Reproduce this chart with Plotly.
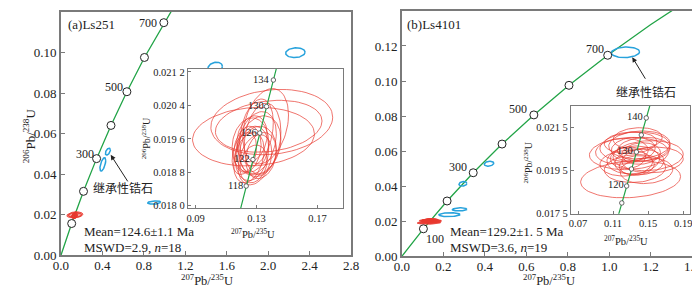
import numpy as np
import plotly.graph_objects as go

W, H = 700, 289
def PX(x): return x / W
def PY(y): return 1 - y / H

# ---------------- data ----------------
# concordia reference points (age Ma, 207Pb/235U, 206Pb/238U)
conc_age = [0, 100, 200, 300, 400, 500, 600, 700, 800, 900]
conc_x207 = [0.0, 0.103498, 0.217708, 0.343737, 0.482813, 0.636284, 0.805638, 0.992523, 1.198750, 1.426332]
conc_y206 = [0.0, 0.015633, 0.031511, 0.047637, 0.064016, 0.080650, 0.097544, 0.114702, 0.132128, 0.149827]

# fine concordia for insets
fine_age = [105, 110, 115, 120, 125, 130, 135, 140, 145]
fine_x207 = [0.10895, 0.11442, 0.11992, 0.12545, 0.13100, 0.13659, 0.14220, 0.14784, 0.15350]
fine_y206 = [0.016421, 0.017210, 0.018000, 0.018789, 0.019580, 0.020371, 0.021163, 0.021955, 0.022748]

insA_age = [118, 122, 126, 130, 134]
insA_x = [0.12323, 0.12767, 0.13212, 0.13659, 0.14107]
insA_y = [0.018473, 0.019105, 0.019738, 0.020371, 0.021004]

insB_age = [115, 120, 125, 130, 135, 140]
insB_x = [0.11992, 0.12545, 0.13100, 0.13659, 0.14220, 0.14784]
insB_y = [0.018000, 0.018789, 0.019580, 0.020371, 0.021163, 0.021955]
insB_lab = ["", "120", "", "130", "", "140"]

# sample Ls251 analyses (center x, center y, half-width x, half-height y, correlation)
a_cx = [0.140, 0.138, 0.128, 0.136, 0.134, 0.130, 0.127, 0.125, 0.131, 0.124, 0.129, 0.133, 0.126, 0.128, 0.122, 0.132, 0.127, 0.130]
a_cy = [0.02000, 0.01990, 0.01965, 0.01990, 0.01960, 0.01950, 0.01925, 0.01915, 0.01930, 0.01935, 0.01910, 0.01920, 0.01945, 0.01900, 0.01925, 0.01945, 0.01960, 0.01975]
a_sx = [0.040, 0.035, 0.040, 0.015, 0.012, 0.013, 0.011, 0.010, 0.012, 0.009, 0.011, 0.010, 0.012, 0.009, 0.008, 0.014, 0.010, 0.011]
a_sy = [0.00078, 0.00062, 0.00070, 0.00090, 0.00085, 0.00075, 0.00065, 0.00060, 0.00060, 0.00055, 0.00060, 0.00055, 0.00065, 0.00045, 0.00050, 0.00070, 0.00055, 0.00080]
a_rho = [0.15, 0.2, 0.1, 0.3, 0.2, 0.3, 0.2, 0.3, 0.1, 0.2, 0.3, 0.2, 0.1, 0.2, 0.3, 0.2, 0.2, 0.3]

# sample Ls4101 analyses
b_cx = [0.130, 0.135, 0.140, 0.128, 0.150, 0.133, 0.125, 0.140, 0.133, 0.145, 0.120, 0.135, 0.155, 0.130, 0.138, 0.127, 0.142, 0.137, 0.148]
b_cy = [0.01910, 0.02060, 0.02070, 0.02030, 0.02020, 0.02000, 0.01985, 0.01990, 0.02050, 0.02050, 0.02040, 0.01960, 0.02000, 0.02080, 0.02100, 0.02010, 0.02030, 0.01975, 0.01950]
b_sx = [0.057, 0.040, 0.035, 0.045, 0.040, 0.030, 0.030, 0.028, 0.025, 0.030, 0.030, 0.035, 0.035, 0.030, 0.028, 0.020, 0.022, 0.020, 0.030]
b_sy = [0.00086, 0.00070, 0.00065, 0.00075, 0.00070, 0.00065, 0.00060, 0.00060, 0.00055, 0.00055, 0.00060, 0.00065, 0.00060, 0.00050, 0.00050, 0.00050, 0.00050, 0.00045, 0.00060]
b_rho = [0.15, 0.1, 0.1, 0.1, 0.1, 0.1, 0.1, 0.1, 0.1, 0.1, 0.1, 0.1, 0.1, 0.1, 0.1, 0.1, 0.1, 0.1, 0.1]

# inherited zircons
ia_cx = [0.453, 0.404, 0.900, 1.488, 2.262]
ia_cy = [0.0511, 0.0448, 0.0260, 0.0926, 0.0999]
ia_sx = [0.024, 0.028, 0.063, 0.070, 0.094]
ia_sy = [0.0017, 0.0033, 0.0008, 0.0026, 0.0024]
ia_rho = [0.5, 0.6, 0.2, 0.2, 0.1]

ib_cx = [0.420, 0.294, 0.278, 0.229, 1.078]
ib_cy = [0.0528, 0.0413, 0.0267, 0.0237, 0.1164]
ib_sx = [0.023, 0.019, 0.035, 0.051, 0.068]
ib_sy = [0.0014, 0.0013, 0.0009, 0.0011, 0.0030]
ib_rho = [0.2, 0.2, 0.1, 0.1, 0.1]

main_xticks_a = [0.0, 0.4, 0.8, 1.2, 1.6, 2.0, 2.4, 2.8]
main_yticks_a = [0.00, 0.02, 0.04, 0.06, 0.08, 0.10, 0.12]
main_xticks_b = [0.0, 0.2, 0.4, 0.6, 0.8, 1.0, 1.2, 1.4]
main_yticks_b = [0.00, 0.02, 0.04, 0.06, 0.08, 0.10, 0.12, 0.14]
insA_xticks = [0.09, 0.13, 0.17]
insA_yticks = [0.0180, 0.0188, 0.0196, 0.0204, 0.0212]
insA_ytext = ["0.018 0", "0.018 8", "0.019 6", "0.020 4", "0.021 2"]
insB_xticks = [0.07, 0.11, 0.15, 0.19]
insB_yticks = [0.0175, 0.0195, 0.0215]
insB_ytext = ["0.017 5", "0.019 5", "0.021 5"]

# ---------------- styling ----------------
RED = "#e8392f"
BLUE = "#27a2dc"
GREEN = "#22a447"
FRAME = "#7a7a7a"
SERIF = "Liberation Serif"
CJK = "Noto Sans CJK SC"
SCALE_A = 1.8   # main-panel display scale of Ls251 error ellipses
SCALE_B = 1.0


def ellipses(cx, cy, sx, sy, rho, k=1.0, n=72):
    t = np.linspace(0, 2 * np.pi, n)
    xs, ys = [], []
    for a, b, c, d, r in zip(cx, cy, sx, sy, rho):
        x = a + k * c * np.cos(t)
        y = b + k * d * (r * np.cos(t) + np.sqrt(1 - r * r) * np.sin(t))
        xs += list(x) + [None]
        ys += list(y) + [None]
    return xs, ys


fig = go.Figure()

# ---- main panel a ----
fig.add_trace(go.Scatter(x=conc_x207, y=conc_y206, mode="lines", line=dict(color=GREEN, width=1.3),
                         xaxis="x", yaxis="y", hoverinfo="skip"))
ex, ey = ellipses(a_cx, a_cy, a_sx, a_sy, a_rho, SCALE_A)
fig.add_trace(go.Scatter(x=ex, y=ey, mode="lines", fill="toself", fillcolor="rgba(232,57,47,0.45)",
                         line=dict(color=RED, width=0.8), xaxis="x", yaxis="y"))
ex, ey = ellipses(ia_cx, ia_cy, ia_sx, ia_sy, ia_rho)
fig.add_trace(go.Scatter(x=ex, y=ey, mode="lines", line=dict(color=BLUE, width=1.5), xaxis="x", yaxis="y"))
fig.add_trace(go.Scatter(x=conc_x207[1:8], y=conc_y206[1:8], mode="markers",
                         marker=dict(size=8, color="white", line=dict(color="#222", width=1)),
                         xaxis="x", yaxis="y"))

# ---- main panel b ----
fig.add_trace(go.Scatter(x=conc_x207, y=conc_y206, mode="lines", line=dict(color=GREEN, width=1.3),
                         xaxis="x2", yaxis="y2"))
ex, ey = ellipses(b_cx, b_cy, b_sx, b_sy, b_rho, SCALE_B)
fig.add_trace(go.Scatter(x=ex, y=ey, mode="lines", fill="toself", fillcolor="rgba(232,40,35,0.85)",
                         line=dict(color=RED, width=0.8), xaxis="x2", yaxis="y2"))
ex, ey = ellipses(ib_cx, ib_cy, ib_sx, ib_sy, ib_rho)
fig.add_trace(go.Scatter(x=ex, y=ey, mode="lines", line=dict(color=BLUE, width=1.5), xaxis="x2", yaxis="y2"))
fig.add_trace(go.Scatter(x=conc_x207[1:8], y=conc_y206[1:8], mode="markers",
                         marker=dict(size=8, color="white", line=dict(color="#222", width=1)),
                         xaxis="x2", yaxis="y2"))

# ---- inset a ----
ex, ey = ellipses(a_cx, a_cy, a_sx, a_sy, a_rho)
fig.add_trace(go.Scatter(x=ex, y=ey, mode="lines", line=dict(color=RED, width=0.7), xaxis="x3", yaxis="y3"))
fig.add_trace(go.Scatter(x=fine_x207, y=fine_y206, mode="lines", line=dict(color=GREEN, width=1.2),
                         xaxis="x3", yaxis="y3"))
fig.add_trace(go.Scatter(x=insA_x, y=insA_y, mode="markers",
                         marker=dict(size=4.5, color="white", line=dict(color="#444", width=0.8)),
                         xaxis="x3", yaxis="y3"))

# ---- inset b ----
ex, ey = ellipses(b_cx, b_cy, b_sx, b_sy, b_rho)
fig.add_trace(go.Scatter(x=ex, y=ey, mode="lines", line=dict(color=RED, width=0.7), xaxis="x4", yaxis="y4"))
fig.add_trace(go.Scatter(x=fine_x207, y=fine_y206, mode="lines", line=dict(color=GREEN, width=1.2),
                         xaxis="x4", yaxis="y4"))
fig.add_trace(go.Scatter(x=insB_x, y=insB_y, mode="markers",
                         marker=dict(size=4.5, color="white", line=dict(color="#444", width=0.8)),
                         xaxis="x4", yaxis="y4"))

ax_common = dict(showgrid=False, zeroline=False, showline=True, mirror=True, linecolor=FRAME,
                 linewidth=1.5, ticks="inside", ticklen=4, tickcolor=FRAME,
                 tickfont=dict(family=SERIF, size=13, color="#222"))
ins_common = dict(showgrid=False, zeroline=False, showline=True, mirror=True, linecolor=FRAME,
                  linewidth=1.3, ticks="inside", ticklen=3, tickcolor=FRAME,
                  tickfont=dict(family=SERIF, size=10.5, color="#222"))

fig.update_layout(
    width=W, height=H, margin=dict(l=0, r=0, t=0, b=0),
    paper_bgcolor="white", plot_bgcolor="white", showlegend=False,
    xaxis=dict(domain=[PX(46), PX(343)], range=[0, 2.8], anchor="y", ticklabelstandoff=-3,
               tickvals=main_xticks_a, ticktext=[f"{v:.1f}" for v in main_xticks_a], **ax_common),
    yaxis=dict(domain=[PY(254), PY(2)], range=[0, 0.12], anchor="x",
               tickvals=main_yticks_a, ticktext=[f"{v:.2f}" for v in main_yticks_a], **ax_common),
    xaxis2=dict(domain=[PX(395), PX(692)], range=[0, 1.4], anchor="y2", ticklabelstandoff=-3,
                tickvals=main_xticks_b, ticktext=[f"{v:.1f}" for v in main_xticks_b], **ax_common),
    yaxis2=dict(domain=[PY(255), PY(1)], range=[0, 0.14], anchor="x2",
                tickvals=main_yticks_b, ticktext=[f"{v:.2f}" for v in main_yticks_b], **ax_common),
    xaxis3=dict(domain=[PX(176), PX(335)], range=[0.085, 0.187], anchor="y3",
                tickvals=insA_xticks, ticktext=[f"{v:.2f}" for v in insA_xticks], **ins_common),
    yaxis3=dict(domain=[PY(205), PY(61)], range=[0.01795, 0.02127], anchor="x3",
                tickvals=insA_yticks, ticktext=insA_ytext, **ins_common),
    xaxis4=dict(domain=[PX(568), PX(690)], range=[0.062, 0.198], anchor="y4",
                tickvals=insB_xticks, ticktext=[f"{v:.2f}" for v in insB_xticks], **ins_common),
    yaxis4=dict(domain=[PY(211), PY(99)], range=[0.0175, 0.02253], anchor="x4",
                tickvals=insB_yticks, ticktext=insB_ytext, **ins_common),
)

ann = []
def paper_text(x, y, text, size=13, family=SERIF, xanchor="center", angle=0, yanchor="middle"):
    ann.append(dict(x=PX(x), y=PY(y), xref="paper", yref="paper", text=text, showarrow=False,
                    xanchor=xanchor, yanchor=yanchor, textangle=angle, borderpad=0,
                    font=dict(family=family, size=size, color="#222")))

def data_text(xr, yr, x, y, text, xs, ys, size=12, xanchor="right"):
    ann.append(dict(x=x, y=y, xref=xr, yref=yr, text=text, showarrow=False, xanchor=xanchor,
                    yanchor="middle", xshift=xs, yshift=ys, borderpad=0,
                    font=dict(family=SERIF, size=size, color="#222")))

T206 = "<sup>206</sup>Pb/<sup>238</sup>U"
T207 = "<sup>207</sup>Pb/<sup>235</sup>U"
paper_text(13, 130, T206, 13, angle=-90)
paper_text(195, 289, T207, 12.5, yanchor="bottom")
paper_text(545, 289, T207, 12.5, yanchor="bottom")
paper_text(243, 231, T207, 10.5)
paper_text(624, 239, T207, 10.5)
paper_text(133, 133, T206, 10, angle=-90)
paper_text(523, 158, T206, 10, angle=-90)
paper_text(52, 15, "(a)Ls251", 13, xanchor="left")
paper_text(399, 15, "(b)Ls4101", 13, xanchor="left")
paper_text(69, 229, "Mean=124.6±1.1 Ma", 13, xanchor="left")
paper_text(69, 246, "MSWD=2.9, <i>n</i>=18", 13, xanchor="left")
paper_text(443, 229, "Mean=129.2±1. 5 Ma", 13, xanchor="left")
paper_text(443, 246, "MSWD=3.6, <i>n</i>=19", 13, xanchor="left")
paper_text(109, 184, "继承性锆石", 12, family=CJK)
paper_text(645, 84, "继承性锆石", 12, family=CJK)

# concordia age labels, main panels
data_text("x", "y", conc_x207[7], conc_y206[7], "700", -6, 0)
data_text("x", "y", conc_x207[5], conc_y206[5], "500", -3, 5)
data_text("x", "y", conc_x207[3], conc_y206[3], "300", -2, 5)
data_text("x2", "y2", conc_x207[7], conc_y206[7], "700", -3, 6)
data_text("x2", "y2", conc_x207[5], conc_y206[5], "500", -6, 6)
data_text("x2", "y2", conc_x207[3], conc_y206[3], "300", -5, 6)
data_text("x2", "y2", conc_x207[1], conc_y206[1], "100", 2, -10, xanchor="left")

for xv, yv, a in zip(insA_x, insA_y, insA_age):
    data_text("x3", "y3", xv, yv, str(a), -2, 1, size=10.5)
for xv, yv, lab in zip(insB_x, insB_y, insB_lab):
    if lab:
        data_text("x4", "y4", xv, yv, lab, -2, 1, size=10.5)

# arrows
ann.append(dict(x=0.48, y=0.0495, xref="x", yref="y", ax=18, ay=28, text="", showarrow=True,
                arrowhead=2, arrowsize=1, arrowwidth=1, arrowcolor="#222"))
ann.append(dict(x=1.111, y=0.1136, xref="x2", yref="y2", ax=14, ay=23, text="", showarrow=True,
                arrowhead=2, arrowsize=1, arrowwidth=1, arrowcolor="#222"))

fig.update_layout(annotations=ann)
fig.write_html("out.html")
